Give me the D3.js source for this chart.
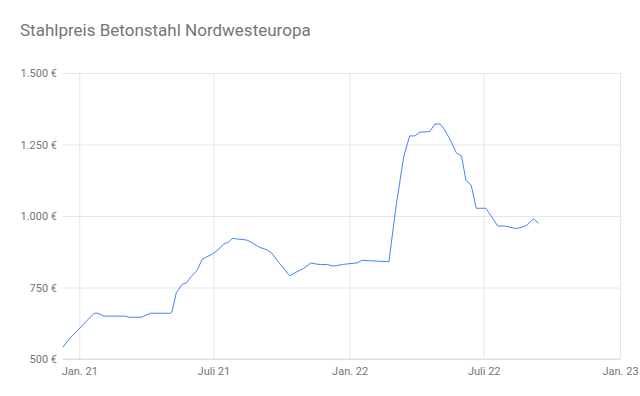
<!DOCTYPE html>
<html>
<head>
<meta charset="utf-8">
<script src="https://cdn.jsdelivr.net/npm/d3@7"></script>
<style>
    body { margin: 0; background: #fff; }
    text { font-family: Roboto, "Noto Sans", sans-serif; }
</style>
</head>
<body>
<div id="chart"></div>
<script>
var title = "Stahlpreis Betonstahl Nordwesteuropa";

var dates = [
    "2020-12-10", "2020-12-17", "2021-01-21", "2021-01-26", "2021-02-03",
    "2021-03-05", "2021-03-08", "2021-03-26", "2021-04-07", "2021-05-04",
    "2021-05-06", "2021-05-12", "2021-05-20", "2021-05-26", "2021-06-01",
    "2021-06-09", "2021-06-16", "2021-06-22", "2021-06-30", "2021-07-07",
    "2021-07-15", "2021-07-21", "2021-07-27", "2021-08-04", "2021-08-15",
    "2021-08-20", "2021-09-01", "2021-09-12", "2021-09-18", "2021-09-28",
    "2021-10-12", "2021-10-21", "2021-10-31", "2021-11-10", "2021-11-19",
    "2021-12-02", "2021-12-10", "2021-12-24", "2022-01-11", "2022-01-18",
    "2022-02-23", "2022-03-05", "2022-03-15", "2022-03-23", "2022-03-30",
    "2022-04-06", "2022-04-19", "2022-04-26", "2022-05-03", "2022-05-09",
    "2022-05-18", "2022-05-25", "2022-06-01", "2022-06-07", "2022-06-14",
    "2022-06-21", "2022-07-04", "2022-07-20", "2022-07-29", "2022-08-14",
    "2022-08-22", "2022-08-29", "2022-09-06", "2022-09-13"
];

var prices = [
    541, 566, 660, 660, 650,
    650, 646, 646, 660, 660,
    664, 732, 761, 767, 788,
    810, 849, 857, 867, 881,
    902, 908, 922, 919, 916,
    910, 891, 881, 870, 835,
    791, 804, 817, 836, 831,
    830, 825, 831, 836, 845,
    840, 1040, 1207, 1280, 1280,
    1293, 1295, 1321, 1322, 1303,
    1260, 1221, 1210, 1125, 1108,
    1027, 1027, 965, 965, 956,
    961, 969, 990, 975
];

var y_ticks = [500, 750, 1000, 1250, 1500];
var x_ticks = ["2021-01-01", "2021-07-01", "2022-01-01", "2022-07-01", "2023-01-01"];
var x_tick_labels = ["Jan. 21", "Juli 21", "Jan. 22", "Juli 22", "Jan. 23"];
var x_end = "2023-01-01";

var width = 640;
var height = 396;
var margin = {top: 73, right: 20, bottom: 37, left: 63};

var parse = d3.timeParse("%Y-%m-%d");
var data = dates.map(function(d, i) {
    return {date: parse(d), value: prices[i]};
});

var svg = d3.select("#chart")
    .append("svg")
    .attr("width", width)
    .attr("height", height);

svg.append("text")
    .attr("x", 20)
    .attr("y", 36)
    .attr("font-size", 17)
    .attr("fill", "#757575")
    .text(title);

var x = d3.scaleTime()
    .domain([data[0].date, parse(x_end)])
    .range([margin.left, width - margin.right]);

var y = d3.scaleLinear()
    .domain([500, 1500])
    .range([height - margin.bottom, margin.top]);

// horizontal grid + y labels
var y_axis = svg.append("g")
    .attr("transform", "translate(" + margin.left + ",0)")
    .call(d3.axisLeft(y)
        .tickValues(y_ticks)
        .tickSize(-(width - margin.left - margin.right))
        .tickPadding(6)
        .tickFormat(function(d) { return d3.format(",")(d).replace(",", ".") + " €"; }));
y_axis.select(".domain").remove();
y_axis.selectAll("line").attr("stroke", "#e6e6e6");
y_axis.selectAll("text")
    .attr("font-size", 11)
    .attr("fill", "#757575");

// vertical grid + x labels
var x_axis = svg.append("g")
    .attr("transform", "translate(0," + margin.top + ")")
    .call(d3.axisBottom(x)
        .tickValues(x_ticks.map(parse))
        .tickSize(height - margin.bottom - margin.top)
        .tickPadding(8)
        .tickFormat(function(d, i) { return x_tick_labels[i]; }));
x_axis.select(".domain").remove();
x_axis.selectAll("line").attr("stroke", "#e6e6e6");
x_axis.selectAll("text")
    .attr("font-size", 11)
    .attr("fill", "#757575");

// baseline
svg.append("line")
    .attr("x1", margin.left)
    .attr("x2", width - margin.right)
    .attr("y1", y(500))
    .attr("y2", y(500))
    .attr("stroke", "#dadada");

var line = d3.line()
    .x(function(d) { return x(d.date); })
    .y(function(d) { return y(d.value); });

svg.append("path")
    .datum(data)
    .attr("fill", "none")
    .attr("stroke", "#4285f4")
    .attr("stroke-width", 1)
    .attr("d", line);
</script>
</body>
</html>
